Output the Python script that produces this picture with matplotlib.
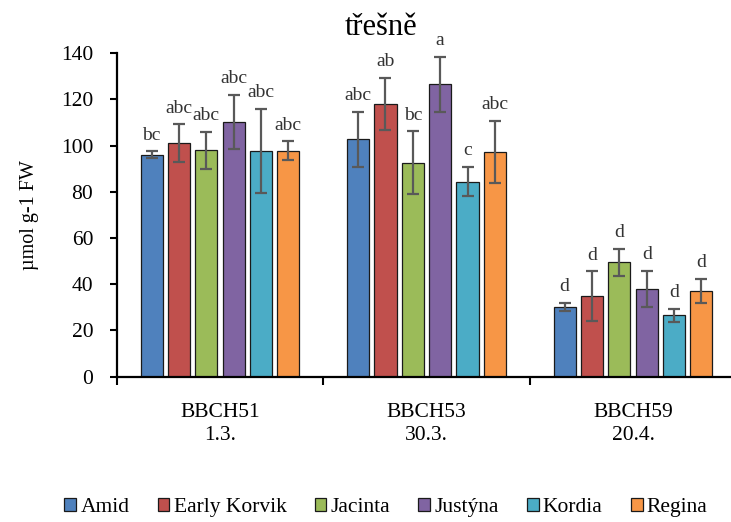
import numpy as np
import matplotlib
matplotlib.use("Agg")
import matplotlib.pyplot as plt

plt.rcParams['font.family'] = ['Liberation Serif', 'DejaVu Serif']

groups = ['BBCH51\n1.3.', 'BBCH53\n30.3.', 'BBCH59\n20.4.']
cultivars = ['Amid', 'Early Korvik', 'Jacinta', 'Justýna', 'Kordia', 'Regina']
colors = ['#4F81BD', '#C0504D', '#9BBB59', '#8064A2', '#4BACC6', '#F79646']

# mean values per cultivar for BBCH51, BBCH53, BBCH59
means = {
    'Amid':         [96.0, 102.7, 30.1],
    'Early Korvik': [101.0, 118.0, 34.7],
    'Jacinta':      [98.0, 92.5, 49.4],
    'Justýna':      [110.3, 126.5, 38.0],
    'Kordia':       [97.8, 84.4, 26.5],
    'Regina':       [97.8, 97.1, 37.2],
}
errors = {
    'Amid':         [1.5, 11.9, 1.7],
    'Early Korvik': [8.2, 11.2, 10.8],
    'Jacinta':      [8.0, 13.6, 5.8],
    'Justýna':      [11.7, 12.0, 7.8],
    'Kordia':       [18.2, 6.4, 2.9],
    'Regina':       [4.0, 13.5, 5.2],
}
letters = {
    'Amid':         ['bc', 'abc', 'd'],
    'Early Korvik': ['abc', 'ab', 'd'],
    'Jacinta':      ['abc', 'bc', 'd'],
    'Justýna':      ['abc', 'a', 'd'],
    'Kordia':       ['abc', 'c', 'd'],
    'Regina':       ['abc', 'abc', 'd'],
}

fig = plt.figure(figsize=(7.31, 5.22), dpi=100)
ax = fig.add_axes([0.1597, 0.2784, 0.8475, 0.620])

x = np.arange(len(groups))
pitch = 0.1325
width = 0.107

for i, c in enumerate(cultivars):
    pos = x + (i - 2.5) * pitch
    m = np.array(means[c])
    e = np.array(errors[c])
    ax.bar(pos, m, width, color=colors[i], edgecolor='#1a1a1a', linewidth=0.9,
           label=c, zorder=2)
    ax.errorbar(pos, m, yerr=e, fmt='none', ecolor='#595959', elinewidth=1.6,
                capsize=4, capthick=1.6, zorder=3)
    for px, top, lab in zip(pos, m + e, letters[c]):
        ax.text(px, top + 7, lab, ha='center', va='center', fontsize=14,
                color='#333333')

ax.set_xlim(-0.5, 2.5)
ax.set_ylim(0, 140)
ax.set_yticks(range(0, 141, 20))
ax.tick_params(axis='y', labelsize=15.5, length=5, width=1.5, pad=12, direction='out')

ax.set_xticks(x)
ax.set_xticklabels(groups, fontsize=15.5, linespacing=1.3)
ax.tick_params(axis='x', length=0, pad=19)
ax.set_xticks([-0.5, 0.5, 1.5], minor=True)
ax.tick_params(axis='x', which='minor', length=6, width=1.5, direction='out')

for s in ['top', 'right']:
    ax.spines[s].set_visible(False)
for s in ['left', 'bottom']:
    ax.spines[s].set_linewidth(1.6)
    ax.spines[s].set_color('black')

ax.set_ylabel('µmol g-1 FW', fontsize=14.5, labelpad=16)

fig.text(0.521, 0.948, 'třešně', ha='center', va='center', fontsize=22)

handles, labels = ax.get_legend_handles_labels()
leg = fig.legend(handles, labels, loc='center', bbox_to_anchor=(0.528, 0.027),
                 ncol=6, frameon=False, fontsize=15.5, handlelength=0.55,
                 handleheight=0.55, handletextpad=0.2, columnspacing=1.3,
                 borderpad=0.1)

fig.savefig('out.png', dpi=100)
